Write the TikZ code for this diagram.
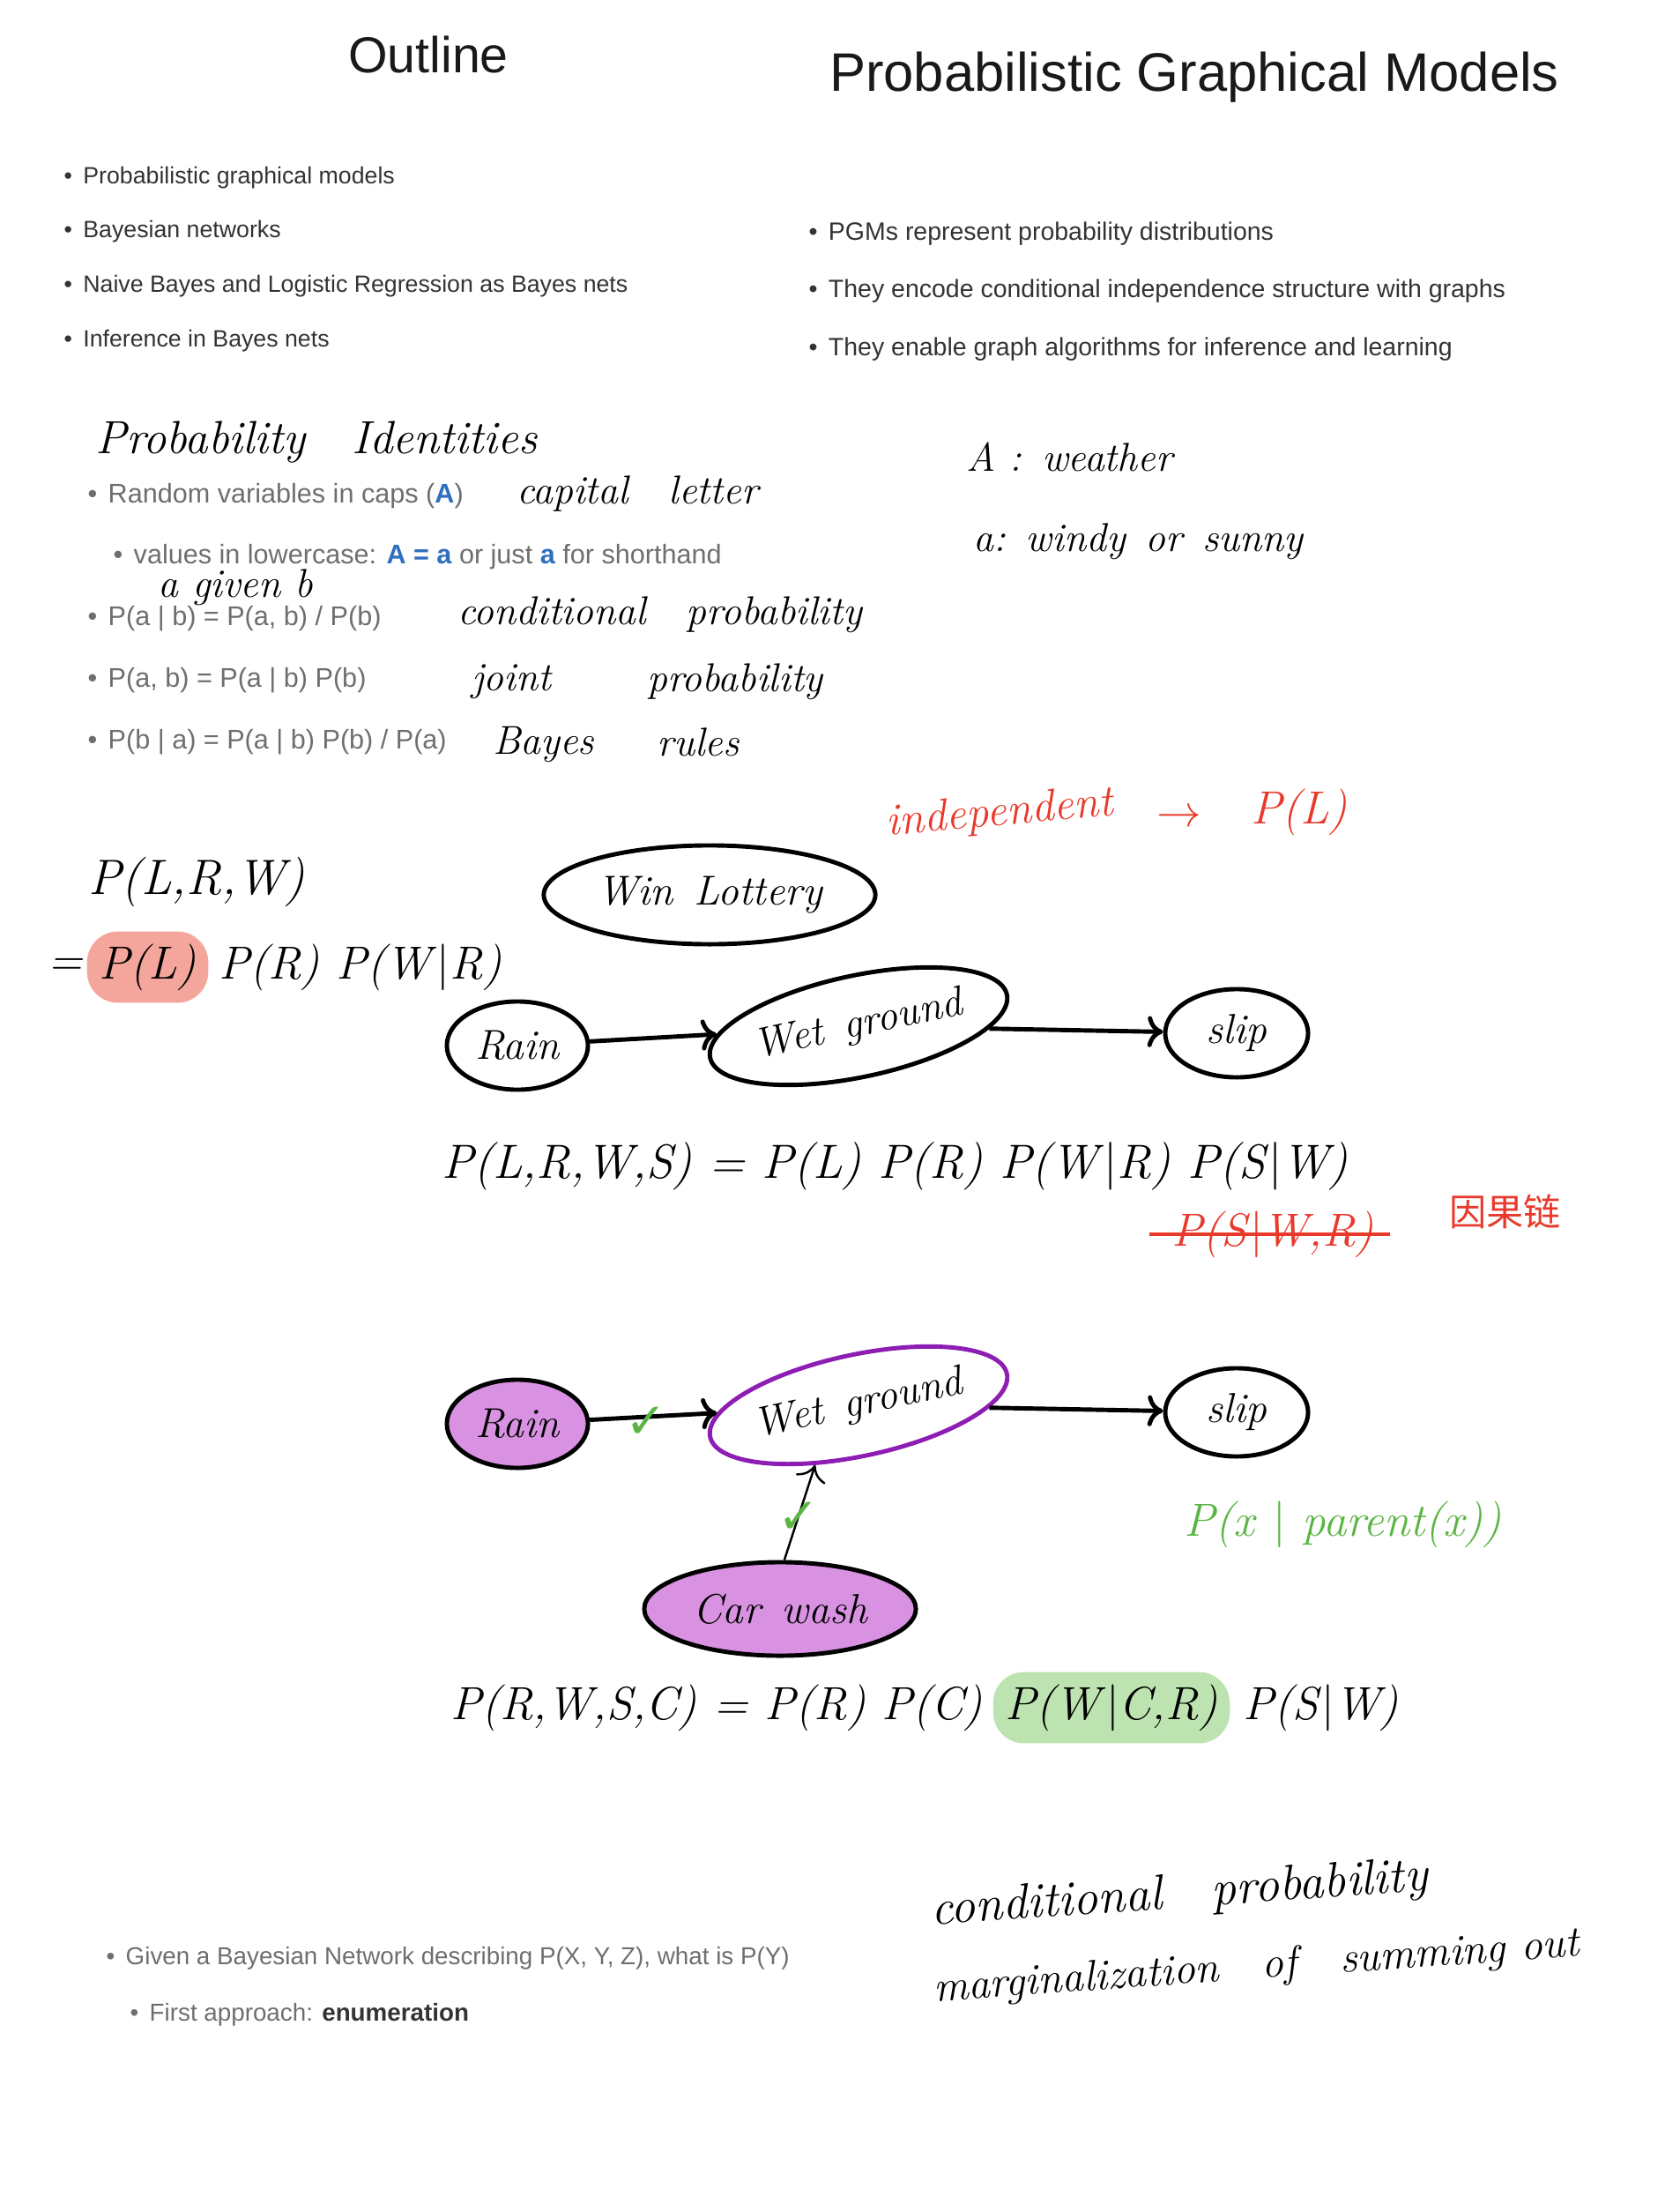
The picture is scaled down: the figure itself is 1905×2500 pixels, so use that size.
\documentclass[tikz,border=0pt]{standalone}
\usepackage{fontspec}
\setsansfont{Liberation Sans}
\newfontfamily\cjk{Noto Sans CJK SC}
\newfontfamily\symfont{DejaVu Sans}
\usetikzlibrary{positioning,shapes.geometric,arrows.meta}

\definecolor{slidegray}{HTML}{6E6E6E}
\definecolor{darkgray}{HTML}{333333}
\definecolor{keyblue}{HTML}{2F6FBF}
\definecolor{penred}{HTML}{E8392B}
\definecolor{pengreen}{HTML}{5BB544}
\definecolor{nodepurple}{HTML}{D992E2}
\definecolor{edgepurple}{HTML}{8E1DB3}
\definecolor{hlred}{HTML}{F5A69C}
\definecolor{hlgreen}{HTML}{BDE3B1}

\newcommand{\hand}[1]{\fontsize{#1}{#1}\selectfont\itshape}
\newcommand{\slide}[1]{\fontsize{#1}{#1}\selectfont\sffamily}
\newcommand{\itm}{\textbullet\hspace{3.5pt}}
\newcommand{\gv}{\textup{|}}

\tikzset{var node/.style={ellipse, draw, line width=1.4pt, inner sep=0pt, font=\hand{13.5}},
  head text/.style={font=\slide{17.5}, text=black!90},
  outline item/.style={anchor=west, inner sep=0pt, font=\slide{7.6}, text=darkgray},
  id item/.style={anchor=west, inner sep=0pt, font=\slide{8.7}, text=slidegray},
  note/.style={anchor=west, font=\hand{13}, inner sep=1pt},
  formula/.style={anchor=west, font=\hand{15.5}, inner sep=1pt},
  link/.style={line width=1.4pt, -{To[length=5pt,width=10pt]}},
  check/.style={font=\symfont\fontsize{16}{16}\selectfont, text=pengreen},}

\begin{document}
\begin{tikzpicture}[x=0.01cm, y=-0.01cm]
        \useasboundingbox (0,0) rectangle (1905,2500);
        % Titles
        \node[head text, font=\slide{16.3}] (outline) at (486,62) {Outline};
        \node[head text] (pgm) at (1355,88) {Probabilistic Graphical Models};
        % Slide bullets
        \node[outline item] (o1) at (72,202) {\itm Probabilistic graphical models};
        \node[outline item] (o2) at (72,263) {\itm Bayesian networks};
        \node[outline item] (o3) at (72,325) {\itm Naive Bayes and Logistic Regression as Bayes nets};
        \node[outline item] (o4) at (72,387) {\itm Inference in Bayes nets};
        \node[outline item, font=\slide{8.1}] (p1) at (917,265) {\itm PGMs represent probability distributions};
        \node[outline item, font=\slide{8.1}] (p2) at (917,330) {\itm They encode conditional independence structure with graphs};
        \node[outline item, font=\slide{8.1}] (p3) at (917,396) {\itm They enable graph algorithms for inference and learning};
        % Probability identities
        \node[note, font=\hand{15}] (idhead) at (104,502) {Probability\quad Identities};
        \node[id item] (id1) at (99,563) {\itm Random variables in caps ({\color{keyblue}\bfseries A})};
        \node[id item] (id2) at (128,632) {\itm values in lowercase: {\color{keyblue}\bfseries A = a} or just {\color{keyblue}\bfseries a} for shorthand};
        \node[id item] (id3) at (99,702) {\itm P(a | b) = P(a, b) / P(b)};
        \node[id item] (id4) at (99,772) {\itm P(a, b) = P(a | b) P(b)};
        \node[id item] (id5) at (99,842) {\itm P(b | a) = P(a | b) P(b) / P(a)};
        \node[note] (capital) at (582,560) {capital\quad letter};
        \node[note] (given) at (175,666) {a given b};
        \node[note] (cond) at (515,697) {conditional\quad probability};
        \node[note] (joint) at (531,773) {joint};
        \node[note] (jointp) at (730,773) {probability};
        \node[note] (bayes) at (555,845) {Bayes};
        \node[note] (rules) at (741,842) {rules};
        \node[note] (weather) at (1092,518) {A :\enspace weather};
        \node[note] (windy) at (1100,614) {a:\enspace windy\enspace or\enspace sunny};
        % Chain with lottery
        \node[formula, font=\hand{16}] (f1) at (96,1000) {P(L,R,W)};
        \node[formula, font=\hand{15}] (f2eq) at (50,1097) {=};
        \node[formula, font=\hand{15}, fill=hlred, rounded corners=10pt, inner sep=4pt, right=0pt of f2eq] (f2hl) {P(L)};
        \node[formula, font=\hand{15}, right=2pt of f2hl] (f2rest) {P(R) P(W\gv R)};
        \node[note, font=\hand{14.5}, text=penred, rotate=5] (indep) at (1001,935) {independent};
        \node[note, font=\hand{14}, text=penred] (indto) at (1308,928) {$\rightarrow$};
        \node[note, font=\hand{15}, text=penred] (indpl) at (1415,921) {P(L)};
        \node[var node, minimum width=3.76cm, minimum height=1.12cm] (lottery) at (805,1015) {Win\enspace Lottery};
        \node[var node, minimum width=1.6cm, minimum height=1cm] (rain) at (587,1186) {Rain};
        \node[var node, minimum width=3.44cm, minimum height=1.15cm, rotate=12] (wet) at (974,1164) {Wet\enspace ground};
        \node[var node, minimum width=1.62cm, minimum height=1cm] (slip) at (1403,1172) {slip};
        \draw[link] (rain) -- (wet);
        \draw[link] (wet) -- (slip);
        \node[formula] (f3) at (497,1323) {P(L,R,W,S) = P(L) P(R) P(W\gv R) P(S\gv W)};
        \node[note, font=\hand{15}, text=penred] (strike) at (1325,1400) {P(S\gv W,R)};
        \draw[penred, line width=1.1pt] ([xshift=-6pt]strike.west) -- ([xshift=4pt]strike.east);
        \node[note, text=penred, font=\cjk\fontsize{12}{12}\selectfont] (chain) at (1640,1374) {因果链};
        % Network with car wash
        \node[var node, fill=nodepurple, minimum width=1.6cm, minimum height=1cm] (rain2) at (587,1615) {Rain};
        \node[var node, draw=edgepurple, minimum width=3.44cm, minimum height=1.15cm, rotate=12] (wet2) at (974,1594) {Wet\enspace ground};
        \node[var node, minimum width=1.62cm, minimum height=1cm] (slip2) at (1403,1602) {slip};
        \node[var node, fill=nodepurple, minimum width=3.08cm, minimum height=1.06cm] (carwash) at (885,1825) {Car\enspace wash};
        \draw[link] (rain2) -- (wet2);
        \draw[link] (wet2) -- (slip2);
        \draw[link, line width=0.7pt] (carwash.85) -- (wet2.222);
        \node[check] (chk1) at (733,1614) {✓};
        \node[check] (chk2) at (906,1722) {✓};
        \node[note, font=\hand{15}, text=pengreen] (parent) at (1339,1729) {P(x \gv\ parent(x))};
        \node[formula, font=\hand{15}] (f4a) at (507,1937) {P(R,W,S,C) = P(R) P(C)};
        \node[formula, font=\hand{15}, fill=hlgreen, rounded corners=10pt, inner sep=4pt, right=2pt of f4a] (f4hl) {P(W\gv C,R)};
        \node[formula, font=\hand{15}, right=3pt of f4hl] (f4b) {P(S\gv W)};
        % Inference
        \node[id item, font=\slide{7.9}] (q1) at (120,2221) {\itm Given a Bayesian Network describing P(X, Y, Z), what is P(Y)};
        \node[id item, font=\slide{7.9}] (q2) at (147,2285) {\itm First approach: {\color{darkgray}\bfseries enumeration}};
        \node[note, font=\hand{16}, rotate=4] (cp) at (1052,2170) {conditional\quad probability};
        \node[note, font=\hand{14}, rotate=4] (marg) at (1055,2258) {marginalization\quad of\quad summing out};
    \end{tikzpicture}
\end{document}
